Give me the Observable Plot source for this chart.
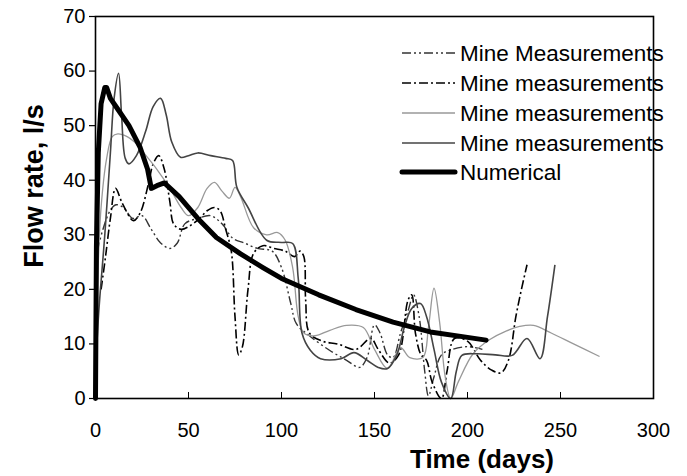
<!DOCTYPE html>
<html><head><meta charset="utf-8">
<script src="https://cdn.jsdelivr.net/npm/d3@7"></script>
<script src="https://cdn.jsdelivr.net/npm/@observablehq/plot@0.6"></script>
<style>
body{margin:0;background:#fff;font-family:"Liberation Sans",Arial,sans-serif}
#wrap{position:relative;width:687px;height:476px}
</style></head><body><div id="wrap"></div>
<script>
const xTicks = [0, 50, 100, 150, 200, 250, 300];
const yTicks = [0, 10, 20, 30, 40, 50, 60, 70];
const seriesNames = ["Mine Measurements", "Mine measurements", "Mine measurements", "Mine measurements", "Numerical"];
const xTitle = "Time (days)";
const yTitle = "Flow rate, l/s";

const m1Days = [1,4,8,11,15,20,25,30,35,40,44,48,55,62,68,74,80,87,95,100,105,108,115,126,135,142,146,150,153,157,160,164,168,171,174,177,179,182,186,192,200,208];
const m1Flow = [27,31,34.5,35.5,35,33,33.5,31,28.5,27.5,28.5,32,33,33.5,32,29.3,28.5,27.5,27,24,17.4,13.7,11.5,8.8,7,5.7,7.5,13.5,12,8,7.5,12,16,19,15,5,0.5,4,8,9,9.5,9];

const m2Days = [3,5.4,8,10.8,14.5,20.4,24,28.5,31,34,37,40,42,46,51,56,60,64,67,70,73,75,77,79,82,85,90,96,102,107,110,112,113,115,122,130,140,148,152,158,163,168,170,172,175,178,181,186,189,193,200,207,213,218,222,226,229,232];
const m2Flow = [20,26,33,38.5,35.7,32.6,34,39.4,43,44.5,42,36,32,31,31.7,33,34.4,35,34.4,31,27,15,8,9.5,20,26.6,28,27.5,27,26,27,26,18,12,10.5,10,9,11,9,6.5,8,18,19,12,8,7,3,0,5,11,10.5,7,5.2,4.7,7,15,20,24.5];

const m3Days = [0,1,3,6,9,12,17,21,26,33,40,46,50,55,60,64,68,72,75,78,85,92,98,102,106,109,112,118,126,135,144,150,157,164,169,176,179,182,185,188,191,195,203,212,221,228,235.5,245,257,271];
const m3Flow = [2,20,35,44,48,48.5,48,47,45,42,38.5,35,33.5,35,38.5,39.6,38,36.7,38.7,37,31.3,30,30.4,29,24,15,12,11.5,12.5,13.4,13,9,5.5,9.3,7.5,7.5,13,20.2,14,4,0,3,8.2,10.8,12.4,13.2,13.4,12,10,7.7];

const m4Days = [0,1.7,5,8,10,12.4,14,16,18,22,27,31,35,38,41,45.7,50,55,62,70,73.7,76,82,92,100,106,109,111,115.6,121,132,139,146,152,157,162,166,170,174.7,178,182,186,191,194,197,205,215,224,232,239,243,247];
const m4Flow = [5,15.6,30,45,55,59.6,52,44,43,44.5,49,53.5,55,52,47,44.2,44.5,45,44.5,44,43.6,38.7,35,29,28.6,28.4,22,12,8.8,7.3,7.3,8.4,7,5.7,5.5,8,13,16.5,17.4,15,9,3,0,5,7.9,8.2,8,7.9,11,7.3,15,24.5];

const numDays = [0,0.5,1.5,3,5,6,8,12,18,24,28,30,33,37,45,55,65,78,90,100,120,140,160,180,200,210];
const numFlow = [0,28,45,54,57,57,55,53,50,46,42,38.5,39,39.5,37,33,29.5,26.5,24,22,19,16.3,14,12.2,11.2,10.7];

const styles = [
  {stroke: "#333", width: 1.4, dash: "9,3,2,3,2,3"},
  {stroke: "#000", width: 1.6, dash: "9,3,2,3"},
  {stroke: "#999", width: 1.3, dash: null},
  {stroke: "#444", width: 1.6, dash: null},
  {stroke: "#000", width: 5, dash: null}
];

const allDays = [m1Days, m2Days, m3Days, m4Days, numDays];
const allFlow = [m1Flow, m2Flow, m3Flow, m4Flow, numFlow];
const series = allDays.map((days, i) => days.map((d, j) => ({day: d, flow: allFlow[i][j]})));

const lineMarks = series.map((rows, i) => Plot.line(rows, {
  x: "day", y: "flow",
  stroke: styles[i].stroke, strokeWidth: styles[i].width,
  strokeDasharray: styles[i].dash,
  curve: i === 4 ? "linear" : "catmull-rom",
  strokeLinejoin: "round", strokeLinecap: i === 4 ? "round" : "butt"
}));

const chart = Plot.plot({
  width: 687, height: 476,
  marginTop: 16, marginLeft: 95, marginRight: 34, marginBottom: 78,
  style: {fontFamily: "'Liberation Sans', Arial, sans-serif", background: "white", overflow: "visible"},
  x: {domain: [0, 300]},
  y: {domain: [0, 70]},
  marks: [
    ...lineMarks,
    Plot.ruleX(xTicks.slice(1, -1), {x: d => d, y1: 0, y2: 1.1, stroke: "black", strokeWidth: 1}),
    Plot.axisX(xTicks, {tickSize: 0, tickPadding: 24, fontSize: 20, label: null, fill: "black"}),
    Plot.axisY(yTicks, {tickSize: 6, tickPadding: 4, fontSize: 20, label: null, fill: "black", strokeWidth: 1.2}),
    Plot.frame({stroke: "black", strokeWidth: 1.6})
  ]
});

document.getElementById("wrap").appendChild(chart);

const svg = d3.select(chart);
// axis titles
svg.append("text").attr("x", 482).attr("y", 468).attr("text-anchor", "middle")
  .attr("font-size", 26).attr("font-weight", "bold").attr("fill", "black").text(xTitle);
svg.append("text").attr("transform", "translate(43,186) rotate(-90)").attr("text-anchor", "middle")
  .attr("font-size", 27).attr("font-weight", "bold").attr("fill", "black").text(yTitle);

// legend
const lg = svg.append("g");
const rowY = [53, 83, 113, 143, 172];
seriesNames.forEach((name, i) => {
  lg.append("line").attr("x1", 402).attr("x2", 455).attr("y1", rowY[i]).attr("y2", rowY[i])
    .attr("stroke", styles[i].stroke).attr("stroke-width", styles[i].width)
    .attr("stroke-dasharray", styles[i].dash).attr("stroke-linecap", i === 4 ? "round" : "butt");
  lg.append("text").attr("x", 460).attr("y", rowY[i]).attr("dy", "0.36em").attr("text-anchor", "start")
    .attr("font-size", 22.5).attr("fill", "black").text(name);
});
</script>
</body></html>
